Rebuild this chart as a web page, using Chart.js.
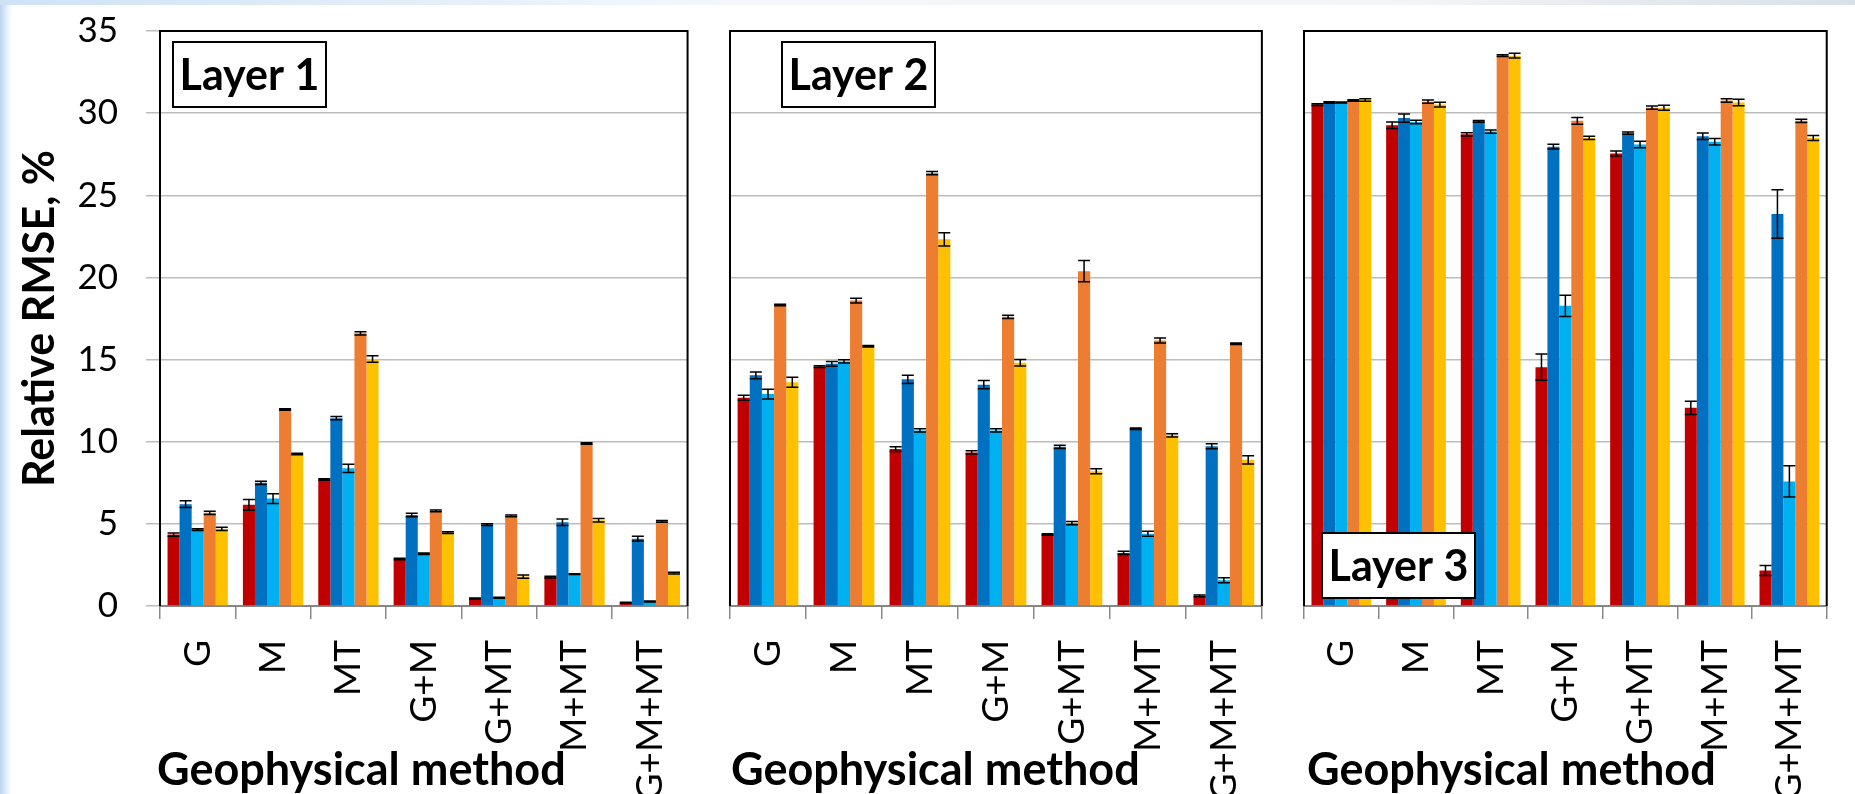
<!DOCTYPE html>
<html>
<head>
<meta charset="utf-8">
<script src="https://cdn.jsdelivr.net/npm/chart.js@4.4.1/dist/chart.umd.min.js"></script>
<style>
  html, body { margin: 0; padding: 0; background: #fff; }
  #page { position: relative; width: 1855px; height: 794px; overflow: hidden; background: #fff; }
  #edgeLeft { position: absolute; left: 0; top: 0; width: 12px; height: 794px;
    background: linear-gradient(to right, #bcd5ee, #e6f0fa 60%, #ffffff); }
  #edgeTop { position: absolute; left: 0; top: 0; width: 1855px; height: 5px;
    background: linear-gradient(to right, #cfe2f5, #f4f8fc 40%, #f4f5f6 75%, #d8e0e8); }
  canvas { position: absolute; top: 0; }
</style>
</head>
<body>
<div id="page">
  <div id="edgeLeft"></div>
  <div id="edgeTop"></div>
  <canvas id="chart1" width="716" height="794" style="left:0px"></canvas>
  <canvas id="chart2" width="574" height="794" style="left:716px"></canvas>
  <canvas id="chart3" width="565" height="794" style="left:1290px"></canvas>
</div>
<script>
// categories and series values (one row per series: red, dark blue, light blue, orange, yellow)
var methods = ['G', 'M', 'MT', 'G+M', 'G+MT', 'M+MT', 'G+M+MT'];
var yTicks = [0, 5, 10, 15, 20, 25, 30, 35];

var layer1Values = [
    [4.35, 6.16, 7.7, 2.86, 0.45, 1.76, 0.2],
    [6.2, 7.5, 11.43, 5.54, 4.95, 5.1, 4.1],
    [4.65, 6.54, 8.38, 3.18, 0.5, 1.94, 0.27],
    [5.67, 11.96, 16.6, 5.79, 5.49, 9.89, 5.15],
    [4.7, 9.25, 15.04, 4.47, 1.79, 5.22, 2.0]
];
var layer1Errors = [
    [0.1, 0.33, 0.05, 0.05, 0.03, 0.05, 0.03],
    [0.2, 0.1, 0.1, 0.1, 0.05, 0.2, 0.15],
    [0.05, 0.3, 0.25, 0.05, 0.03, 0.03, 0.03],
    [0.1, 0.05, 0.1, 0.05, 0.05, 0.05, 0.05],
    [0.1, 0.05, 0.2, 0.05, 0.1, 0.1, 0.05]
];

var layer2Values = [
    [12.68, 14.57, 9.55, 9.35, 4.35, 3.23, 0.62],
    [14.04, 14.74, 13.8, 13.47, 9.69, 10.79, 9.72],
    [12.9, 14.89, 10.69, 10.69, 5.05, 4.4, 1.57],
    [18.32, 18.59, 26.35, 17.6, 20.38, 16.16, 15.96],
    [13.62, 15.81, 22.32, 14.81, 8.2, 10.39, 8.9]
];
var layer2Errors = [
    [0.15, 0.05, 0.15, 0.1, 0.05, 0.1, 0.05],
    [0.2, 0.15, 0.25, 0.25, 0.1, 0.05, 0.15],
    [0.3, 0.1, 0.1, 0.1, 0.1, 0.15, 0.15],
    [0.05, 0.15, 0.1, 0.1, 0.65, 0.15, 0.05],
    [0.3, 0.05, 0.4, 0.2, 0.15, 0.1, 0.25]
];

var layer3Values = [
    [30.52, 29.26, 28.71, 14.54, 27.54, 12.06, 2.16],
    [30.65, 29.7, 29.5, 27.96, 28.78, 28.59, 23.86],
    [30.65, 29.46, 28.88, 18.27, 28.09, 28.26, 7.58],
    [30.77, 30.7, 33.5, 29.53, 30.33, 30.77, 29.53],
    [30.8, 30.52, 33.5, 28.49, 30.33, 30.65, 28.49]
];
var layer3Errors = [
    [0.05, 0.2, 0.1, 0.8, 0.15, 0.4, 0.3],
    [0.05, 0.25, 0.05, 0.15, 0.07, 0.2, 1.47],
    [0.03, 0.1, 0.1, 0.65, 0.2, 0.2, 0.95],
    [0.05, 0.1, 0.05, 0.2, 0.1, 0.1, 0.1],
    [0.07, 0.15, 0.15, 0.1, 0.15, 0.2, 0.15]
];

var seriesColors = ['#C00000', '#0070C0', '#00B0F0', '#ED7D31', '#FFC000'];
var fontFamily = 'Lato, "Open Sans", sans-serif';

// error bars, panel frame, layer label box and axis title
var panelDecor = {
    id: 'panelDecor',
    afterDatasetsDraw: function (chart, args, opts) {
        let ctx = chart.ctx;
        let yScale = chart.scales.y;
        ctx.save();
        ctx.strokeStyle = '#000';
        ctx.lineWidth = 1.5;
        chart.data.datasets.forEach(function (ds, i) {
            let meta = chart.getDatasetMeta(i);
            meta.data.forEach(function (bar, j) {
                let v = ds.data[j];
                let e = opts.errors[i][j];
                let yTop = yScale.getPixelForValue(v + e);
                let yBot = yScale.getPixelForValue(v - e);
                let half = 6;
                ctx.beginPath();
                ctx.moveTo(bar.x, yTop);
                ctx.lineTo(bar.x, yBot);
                ctx.moveTo(bar.x - half, yTop);
                ctx.lineTo(bar.x + half, yTop);
                ctx.moveTo(bar.x - half, yBot);
                ctx.lineTo(bar.x + half, yBot);
                ctx.stroke();
            });
        });
        ctx.restore();
    },
    afterDraw: function (chart, args, opts) {
        let ctx = chart.ctx;
        let a = chart.chartArea;
        ctx.save();
        // frame (left, top, right)
        ctx.strokeStyle = '#000';
        ctx.lineWidth = 2;
        ctx.beginPath();
        ctx.moveTo(a.left, a.bottom);
        ctx.lineTo(a.left, a.top);
        ctx.lineTo(a.right, a.top);
        ctx.lineTo(a.right, a.bottom);
        ctx.stroke();

        // layer label box
        let bx = a.left + opts.boxX;
        let by = opts.boxY;
        ctx.fillStyle = '#fff';
        ctx.fillRect(bx, by, 153, 65);
        ctx.strokeRect(bx, by, 153, 65);
        ctx.fillStyle = '#000';
        ctx.font = 'bold 43px ' + fontFamily;
        ctx.textAlign = 'center';
        ctx.textBaseline = 'middle';
        ctx.fillText(opts.label, bx + 76.5, by + 34);

        // x axis title
        ctx.font = 'bold 45px ' + fontFamily;
        ctx.textAlign = 'left';
        ctx.textBaseline = 'alphabetic';
        ctx.fillText('Geophysical method', a.left + opts.titleX, 785);
        ctx.restore();
    }
};

function makeChart(canvasId, values, errors, label, boxX, boxY, titleX, yWidth, padRight, showY) {
    let datasets = [];
    for (let i = 0; i < values.length; i++) {
        datasets.push({
            data: values[i],
            backgroundColor: seriesColors[i],
            borderWidth: 0,
            barPercentage: 1.0,
            categoryPercentage: 0.8
        });
    }

    return new Chart(document.getElementById(canvasId).getContext('2d'), {
        type: 'bar',
        data: {
            labels: methods,
            datasets: datasets
        },
        options: {
            responsive: false,
            animation: false,
            layout: {
                padding: { top: 31, right: padRight, left: 0, bottom: 0 }
            },
            plugins: {
                legend: { display: false },
                tooltip: { enabled: false },
                panelDecor: {
                    errors: errors,
                    label: label,
                    boxX: boxX,
                    boxY: boxY,
                    titleX: titleX
                }
            },
            scales: {
                x: {
                    afterFit: function (s) { s.height = 188; },
                    grid: {
                        offset: true,
                        drawOnChartArea: false,
                        drawTicks: true,
                        tickLength: 13,
                        color: '#8a8a8a',
                        lineWidth: 1.5
                    },
                    border: { display: true, color: '#868686', width: 2 },
                    ticks: {
                        autoSkip: false,
                        minRotation: 90,
                        maxRotation: 90,
                        padding: 21,
                        color: '#000',
                        font: { family: fontFamily, size: 37 }
                    }
                },
                y: {
                    min: 0,
                    max: 35,
                    afterFit: function (s) {
                        s.width = yWidth;
                        s.paddingTop = 0;
                        s.paddingBottom = 0;
                    },
                    afterBuildTicks: function (s) {
                        s.ticks = yTicks.map(function (v) { return { value: v }; });
                    },
                    border: { display: false },
                    grid: {
                        color: '#bdbdbd',
                        lineWidth: 1.5,
                        drawTicks: showY,
                        tickLength: 14
                    },
                    ticks: {
                        display: showY,
                        padding: 28,
                        color: '#000',
                        font: { family: fontFamily, size: 35 }
                    },
                    title: {
                        display: showY,
                        text: 'Relative RMSE, %',
                        color: '#000',
                        padding: { top: 14, bottom: 0 },
                        font: { family: fontFamily, size: 43, weight: 'bold' }
                    }
                }
            }
        },
        plugins: [panelDecor]
    });
}

var chart1 = makeChart('chart1', layer1Values, layer1Errors, 'Layer 1', 13, 42, -3, 160, 10, true);
var chart2 = makeChart('chart2', layer2Values, layer2Errors, 'Layer 2', 52, 42, 1, 14, 10, false);
var chart3 = makeChart('chart3', layer3Values, layer3Errors, 'Layer 3', 18, 533, 3, 14, 3, false);
</script>
</body>
</html>
